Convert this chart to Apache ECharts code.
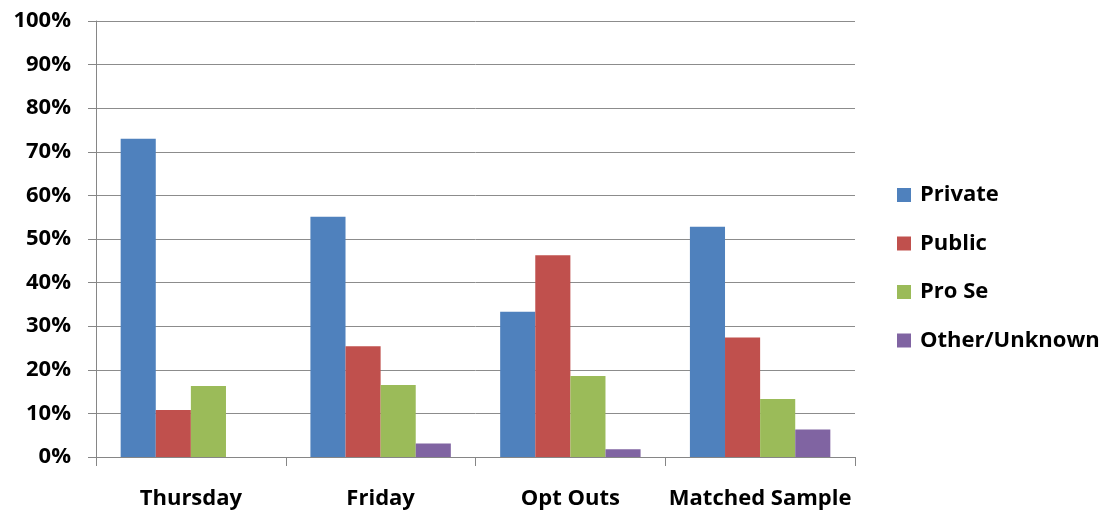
<!DOCTYPE html>
<html>
<head>
<meta charset="utf-8">
<script src="https://cdn.jsdelivr.net/npm/echarts@6/dist/echarts.min.js"></script>
<style>
  html, body { margin: 0; padding: 0; background: #ffffff; }
  #chart { width: 1109px; height: 514px; }
</style>
</head>
<body>
<div id="chart"></div>
<script>
// Share of defendants by counsel type, per sample group (percent)
const categories = ['Thursday', 'Friday', 'Opt Outs', 'Matched Sample'];
const privateCounsel = [73.0, 55.1, 33.3, 52.8];
const publicCounsel  = [10.8, 25.4, 46.3, 27.4];
const proSe          = [16.3, 16.5, 18.6, 13.3];
const otherUnknown   = [0.0, 3.1, 1.8, 6.3];
const seriesNames = ['Private', 'Public', 'Pro Se', 'Other/Unknown'];
const seriesColors = ['#4F81BD', '#C0504D', '#9BBB59', '#8064A2'];

const font = '"Open Sans", Lato, sans-serif';
const fontSize = 22;
const seriesData = [privateCounsel, publicCounsel, proSe, otherUnknown];

const chart = echarts.init(document.getElementById('chart'));
chart.setOption({
  animation: false,
  backgroundColor: '#ffffff',
  grid: { left: 96, right: 254, top: 21, bottom: 57 },
  legend: {
    orient: 'vertical',
    left: 897,
    top: 184,
    padding: 0,
    itemWidth: 14,
    itemHeight: 14,
    itemGap: 26.5,
    icon: 'rect',
    textStyle: { fontFamily: font, fontWeight: 'bold', fontSize: fontSize, color: '#000', lineHeight: 20, padding: [0, 0, 0, 4] },
    data: seriesNames
  },
  xAxis: {
    type: 'category',
    data: categories,
    axisLine: { lineStyle: { color: '#868686', width: 1 } },
    axisTick: { show: true, interval: 0, length: 9, alignWithLabel: false, lineStyle: { color: '#868686' } },
    axisLabel: { interval: 0, margin: 31, fontFamily: font, fontWeight: 'bold', fontSize: fontSize, color: '#000' },
    splitLine: { show: false }
  },
  yAxis: {
    type: 'value',
    min: 0,
    max: 100,
    interval: 10,
    axisLine: { show: true, lineStyle: { color: '#868686', width: 1 } },
    axisTick: { show: true, length: 8, lineStyle: { color: '#868686' } },
    axisLabel: { margin: 25, formatter: '{value}%', fontFamily: font, fontWeight: 'bold', fontSize: fontSize, color: '#000' },
    splitLine: { show: true, lineStyle: { color: '#8c8c8c', width: 1 } }
  },
  series: seriesNames.map((name, i) => ({
    name: name,
    type: 'bar',
    data: seriesData[i],
    barGap: '0%',
    barCategoryGap: '26%',
    itemStyle: { color: seriesColors[i] }
  }))
});
</script>
</body>
</html>
